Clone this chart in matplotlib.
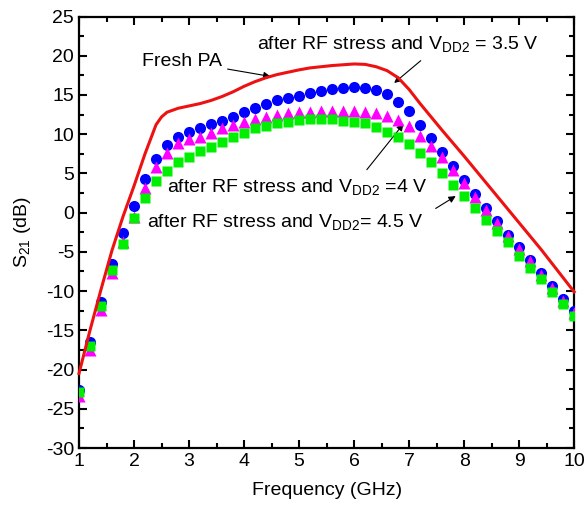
import numpy as np
import matplotlib
matplotlib.use("Agg")
import matplotlib.pyplot as plt
from matplotlib.ticker import MultipleLocator

plt.rcParams["font.family"] = ["Liberation Sans", "DejaVu Sans"]
plt.rcParams["mathtext.default"] = "regular"
plt.rcParams["axes.unicode_minus"] = False

# Measured S21 at 0.2 GHz steps
freq = [1.0, 1.2, 1.4, 1.6, 1.8, 2.0, 2.2, 2.4, 2.6, 2.8,
        3.0, 3.2, 3.4, 3.6, 3.8, 4.0, 4.2, 4.4, 4.6, 4.8,
        5.0, 5.2, 5.4, 5.6, 5.8, 6.0, 6.2, 6.4, 6.6, 6.8,
        7.0, 7.2, 7.4, 7.6, 7.8, 8.0, 8.2, 8.4, 8.6, 8.8,
        9.0, 9.2, 9.4, 9.6, 9.8, 10.0]

s21_35v = [-22.6, -16.5, -11.4, -6.6, -2.6, 0.9, 4.3, 6.8, 8.6, 9.7,
           10.3, 10.8, 11.3, 11.7, 12.2, 12.8, 13.3, 13.9, 14.4, 14.6,
           14.9, 15.3, 15.5, 15.7, 15.85, 16.0, 15.9, 15.6, 15.1, 14.1,
           12.9, 11.2, 9.5, 7.7, 5.9, 4.2, 2.4, 0.6, -1.1, -2.8,
           -4.4, -6.0, -7.7, -9.4, -11.0, -12.6]

s21_4v = [-23.4, -17.5, -12.4, -7.7, -3.7, -0.5, 3.2, 5.8, 7.65, 8.85,
          9.35, 9.7, 10.2, 10.75, 11.2, 11.5, 11.9, 12.2, 12.5, 12.7,
          12.8, 12.85, 12.9, 12.95, 12.95, 12.9, 12.85, 12.7, 12.3, 11.8,
          11.0, 9.8, 8.5, 7.05, 5.45, 3.8, 2.05, 0.4, -1.3, -3.0,
          -4.6, -6.2, -7.9, -9.6, -11.2, -12.8]

s21_45v = [-22.8, -17.0, -11.9, -7.3, -4.0, -0.7, 1.85, 4.0, 5.3, 6.5,
           7.1, 7.8, 8.4, 9.05, 9.7, 10.2, 10.75, 11.0, 11.4, 11.6,
           11.8, 11.95, 11.95, 11.9, 11.7, 11.6, 11.4, 10.9, 10.3, 9.6,
           8.75, 7.55, 6.4, 5.1, 3.5, 2.1, 0.55, -0.9, -2.4, -3.8,
           -5.5, -7.1, -8.5, -10.1, -11.6, -13.2]

# Fresh PA (solid line)
fresh_freq = [1.0, 1.2, 1.4, 1.6, 1.8, 2.0, 2.2, 2.4, 2.5, 2.6, 2.8,
              3.0, 3.2, 3.4, 3.6, 3.8, 4.0, 4.2, 4.4, 4.6, 4.8,
              5.0, 5.2, 5.4, 5.6, 5.8, 6.0, 6.2, 6.4, 6.6, 6.8,
              7.0, 7.2, 7.4, 7.6, 7.8, 8.0, 8.2, 8.4, 8.6, 8.8,
              9.0, 9.2, 9.4, 9.6, 9.8, 10.0]
fresh_s21 = [-20.5, -15.0, -9.8, -4.8, -0.5, 3.4, 7.5, 11.2, 12.2, 12.8, 13.3,
             13.6, 13.9, 14.3, 14.8, 15.4, 16.1, 16.7, 17.2, 17.6, 17.9,
             18.2, 18.45, 18.6, 18.75, 18.85, 18.95, 18.9, 18.6, 18.1, 17.2,
             15.7, 13.9, 12.2, 10.5, 8.85, 7.2, 5.5, 3.8, 2.1, 0.4,
             -1.3, -3.0, -4.7, -6.5, -8.3, -10.1]

fig = plt.figure(figsize=(5.86, 5.08), dpi=100)
ax = fig.add_axes([0.1348, 0.1181, 0.845, 0.8494])

ax.plot(freq, s21_35v, "o", color="#0000ff", ms=8, mec="none", zorder=3)
ax.plot(freq, s21_4v, "^", color="#ff00ff", ms=8, mec="none", zorder=4)
ax.plot(freq, s21_45v, "s", color="#00ee00", ms=6.5, mec="none", zorder=5)
ax.plot(fresh_freq, fresh_s21, "-", color="#ee1111", lw=2.2, zorder=6,
        clip_on=False)

ax.set_xlim(1, 10)
ax.set_ylim(-30, 25)
ax.xaxis.set_major_locator(MultipleLocator(1))
ax.xaxis.set_minor_locator(MultipleLocator(0.5))
ax.yaxis.set_major_locator(MultipleLocator(5))
ax.yaxis.set_minor_locator(MultipleLocator(2.5))
ax.tick_params(which="both", direction="in", top=True, right=True,
               width=1.5, labelsize=14)
ax.tick_params(which="major", length=6)
ax.tick_params(which="minor", length=3.5)
for sp in ax.spines.values():
    sp.set_linewidth(1.6)

ax.set_xlabel("Frequency (GHz)", fontsize=14, labelpad=9)
ax.set_ylabel("S$_{21}$ (dB)", fontsize=14, labelpad=9)

arrow = dict(arrowstyle="-|>", color="black", lw=0.8, mutation_scale=10)
fs = 14
ax.annotate("Fresh PA", xy=(4.53, 17.3), xytext=(3.6, 19.3),
            fontsize=fs, ha="right", va="center", arrowprops=arrow)
ax.text(4.24, 21.5, "after RF stress and V$_{DD2}$ = 3.5 V",
        fontsize=fs, ha="left", va="center")
ax.annotate("", xy=(6.69, 16.3), xytext=(7.25, 19.6), arrowprops=arrow)
ax.text(2.6, 3.3, "after RF stress and V$_{DD2}$ =4 V",
        fontsize=fs, ha="left", va="center")
ax.annotate("", xy=(6.93, 11.6), xytext=(6.2, 5.2), arrowprops=arrow)
ax.text(2.24, -1.2, "after RF stress and V$_{DD2}$= 4.5 V",
        fontsize=fs, ha="left", va="center")
ax.annotate("", xy=(7.89, 2.3), xytext=(7.44, 0.35), arrowprops=arrow)

fig.savefig("out.png", dpi=100)
